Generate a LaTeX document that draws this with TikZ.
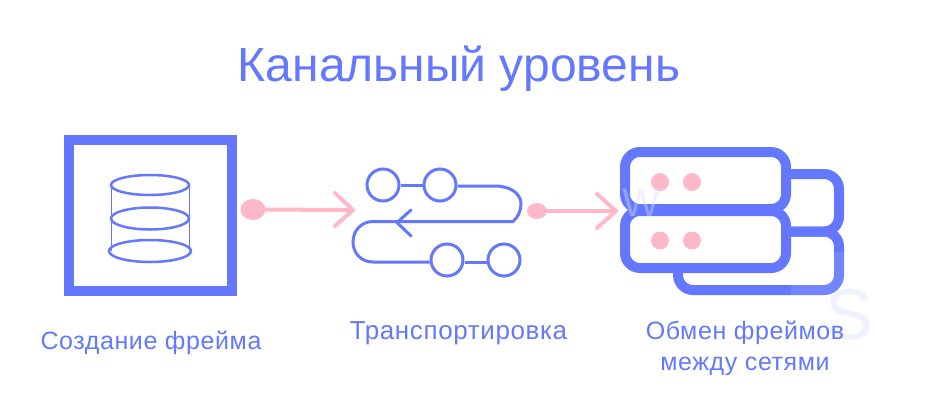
\documentclass[tikz,border=0pt]{standalone}
\usepackage{fontspec}
\setmainfont{Liberation Sans}
\usetikzlibrary{arrows,positioning,shapes.geometric}
\definecolor{netblue}{RGB}{100, 120, 255}
\definecolor{netpink}{RGB}{255, 184, 200}
\definecolor{netghost}{RGB}{215, 220, 255}
\tikzstyle{caption}=[text=netblue,inner sep=0pt,align=center,font=\fontsize{25}{31}\selectfont\addfontfeature{LetterSpace=2.4}]
\tikzstyle{wire}=[netblue,line width=3pt]
\tikzstyle{ring}=[circle,draw=netblue,line width=3pt,minimum size=32pt,inner sep=0pt]
\tikzstyle{rack}=[netblue,line width=10pt,rounded corners=15pt]
\tikzstyle{flow}=[netpink,line width=4pt,line cap=round,line join=round]
\tikzstyle{tail}=[ellipse,fill=netpink,inner sep=0pt]
\tikzstyle{led}=[circle,fill=netpink,minimum size=18pt,inner sep=0pt]

\begin{document}
\begin{tikzpicture}[x=1pt,y=-1pt]

  \useasboundingbox (0,0) rectangle (928,400);

  % title
  \node[text=netblue,inner sep=0pt,font=\fontsize{48}{48}\selectfont] (title) at (459,69) {Канальный уровень};

  % frame with cylinder
  \draw[netblue,line width=10pt] (69,140) rectangle (232,291);
  \draw[netblue,line width=1pt] (111,185) -- (111,251);
  \draw[netblue,line width=1pt] (189.5,185) -- (189.5,251);
  \foreach \y/\rx/\ry in {185/39/10,218.5/39/11,251/41/11} {
    \draw[netblue,line width=2.5pt] (150,\y) ellipse ({\rx} and {\ry});
  }

  % first arrow
  \node[tail,minimum width=25pt,minimum height=21pt] (tailA) at (253,209.5) {};
  \coordinate (tipA) at (353,210);
  \draw[flow] (tailA) -- (tipA);
  \draw[flow] (335,193) -- (tipA) -- (335,226);

  % route with stops
  \node[ring] (ringA) at (383,185) {};
  \node[ring] (ringB) at (440,185) {};
  \node[ring] (ringC) at (447,260) {};
  \node[ring] (ringD) at (504,260) {};
  \draw[wire] (ringA) -- (ringB);
  \draw[wire] ([yshift=-2pt]ringC.east) -- ([yshift=-2pt]ringD.west);
  \draw[wire,line join=round] ([yshift=-1pt]ringB.east) -- (495,186) .. controls (511,186) and (521,194) .. (521,204) .. controls (521,211) and (518,217) .. (513,221.5) -- (373,221.5) .. controls (361,221.5) and (353,231) .. (353,242) .. controls (353,253) and (361,262) .. (373,262) -- ([yshift=-2pt]ringC.west);
  \draw[wire,line cap=round,line join=round] (411,210) -- (397,222.5) -- (411,236);

  % second arrow
  \node[tail,minimum width=20pt,minimum height=16pt] (tailB) at (537,211) {};
  \coordinate (tipB) at (616,211);
  \draw[flow] (tailB) -- (tipB);
  \draw[flow] (597,194) -- (tipB) -- (597,228);

  % servers
  \draw[rack] (786,174) -- (839,174) -- (839,231.5) -- (786,231.5);
  \draw[rack] (786,231.5) -- (839,231.5) -- (839,290) -- (678,290) -- (678,268);
  \draw[rack] (625,152) rectangle (786,209);
  \draw[rack] (625,211) rectangle (786,268);
  \foreach \x in {660,692} {
    \foreach \y in {182,240.5} {
      \node[led] at (\x,\y) {};
    }
  }
  \fill[white,opacity=0.1] (791,252) rectangle (850,300);

  % faint letters on top
  \node[text=netghost,text opacity=0.4,inner sep=0pt,font=\fontsize{72}{72}\selectfont] (ghostS) at (849,315) {S};
  \node[text=netghost,text opacity=0.4,inner sep=0pt,font=\fontsize{40}{40}\selectfont] (ghostW) at (641,203) {W};

  % captions
  \node[caption] (capA) at (151,343) {Создание фрейма};
  \node[caption,font=\fontsize{26}{31}\selectfont\addfontfeature{LetterSpace=2.4}] (capB) at (458.5,333) {Транспортировка};
  \node[caption] (capC) at (745,348.5) {Обмен фреймов\\между сетями};

\end{tikzpicture}
\end{document}
